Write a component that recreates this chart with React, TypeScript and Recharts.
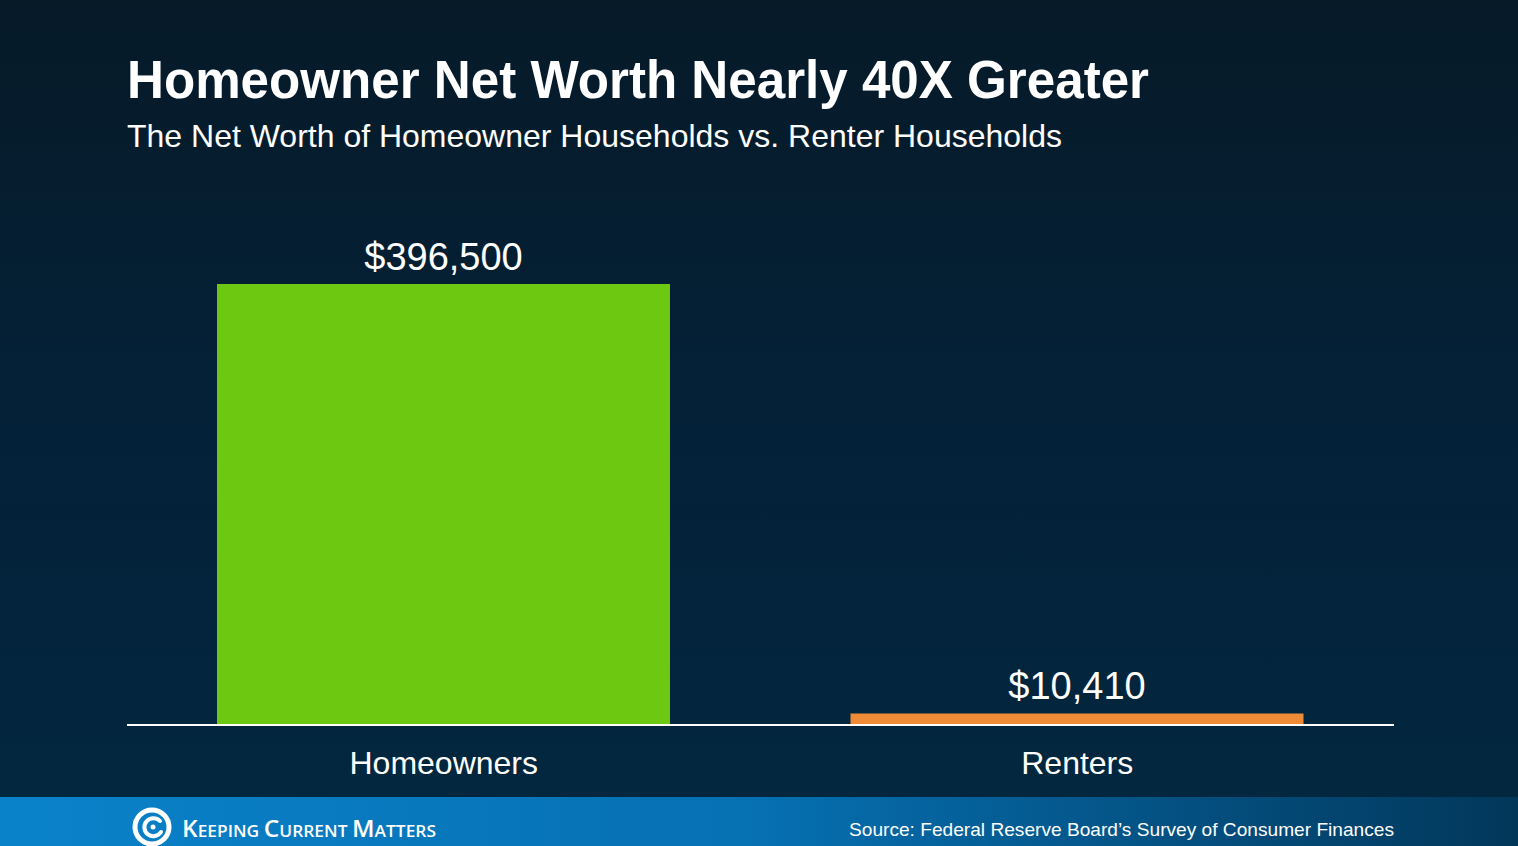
import { Bar, BarChart, Cell, LabelList, XAxis, YAxis } from 'recharts';

const categories = ['Homeowners', 'Renters'];
const netWorth = [396500, 10410];
const barColors = ['#6cc811', '#ef8a37'];

const data = categories.map((name, i) => ({ name, value: netWorth[i] }));

const FONT = '"Liberation Sans", Arial, Helvetica, sans-serif';

function formatMoney(v: number | string) {
  return '$' + Number(v).toLocaleString('en-US');
}

function Logo() {
  return (
    <g>
      {/* spiral mark */}
      <circle cx={152} cy={827} r={17} fill="none" stroke="#fff" strokeWidth={5} />
      <path
        d="M 160 821 A 9 9 0 1 0 161 832"
        fill="none"
        stroke="#fff"
        strokeWidth={4}
        strokeLinecap="round"
      />
      <circle cx={153} cy={827} r={2.5} fill="#fff" />
      <text
        x={182}
        y={837}
        fill="#fff"
        fontFamily='"Open Sans", "Noto Sans", sans-serif'
        fontWeight={600}
        textLength={254}
        lengthAdjust="spacingAndGlyphs"
      >
        <tspan fontSize={24}>K</tspan>
        <tspan fontSize={17}>EEPING </tspan>
        <tspan fontSize={24}>C</tspan>
        <tspan fontSize={17}>URRENT </tspan>
        <tspan fontSize={24}>M</tspan>
        <tspan fontSize={17}>ATTERS</tspan>
      </text>
    </g>
  );
}

export default function App() {
  return (
    <div
      style={{
        position: 'fixed',
        left: 0,
        top: 0,
        width: 1518,
        height: 846,
        overflow: 'hidden',
        background: 'linear-gradient(180deg, #061a28 0%, #04223a 55%, #02283f 100%)',
        fontFamily: FONT,
      }}
    >
      <svg width={1518} height={846} style={{ position: 'absolute', left: 0, top: 0 }}>
        <defs>
          <linearGradient id="footerGrad" x1="0" y1="0" x2="1" y2="0">
            <stop offset="0%" stopColor="#0a82ca" />
            <stop offset="50%" stopColor="#0670b2" />
            <stop offset="100%" stopColor="#02375a" />
          </linearGradient>
        </defs>
        <text
          x={127}
          y={98}
          fill="#fff"
          fontFamily={FONT}
          fontWeight={700}
          fontSize={53}
          textLength={1022}
          lengthAdjust="spacingAndGlyphs"
        >
          Homeowner Net Worth Nearly 40X Greater
        </text>
        <text x={127} y={147} fill="#fff" fontFamily={FONT} fontSize={32}>
          The Net Worth of Homeowner Households vs. Renter Households
        </text>
        <rect x={0} y={797} width={1518} height={49} fill="url(#footerGrad)" />
        <Logo />
        <text
          x={1394}
          y={836}
          fill="#fff"
          fontFamily={FONT}
          fontSize={19}
          textAnchor="end"
          textLength={545}
          lengthAdjust="spacingAndGlyphs"
        >
          Source: Federal Reserve Board’s Survey of Consumer Finances
        </text>
      </svg>

      <div style={{ position: 'absolute', left: 0, top: 0 }}>
        <BarChart
          width={1518}
          height={846}
          data={data}
          margin={{ top: 280, right: 124, left: 127, bottom: 61 }}
        >
          <XAxis
            dataKey="name"
            height={60}
            axisLine={{ stroke: '#ffffff', strokeWidth: 2 }}
            tickLine={false}
            tickMargin={20}
            tick={{ fill: '#ffffff', fontSize: 32, fontFamily: FONT }}
          />
          <YAxis hide domain={[0, 400000]} />
          <Bar dataKey="value" barSize={453} isAnimationActive={false}>
            {data.map((d, i) => (
              <Cell key={d.name} fill={barColors[i]} />
            ))}
            <LabelList
              dataKey="value"
              position="top"
              offset={14}
              formatter={formatMoney}
              fill="#ffffff"
              fontSize={38}
              fontFamily={FONT}
            />
          </Bar>
        </BarChart>
      </div>
    </div>
  );
}
